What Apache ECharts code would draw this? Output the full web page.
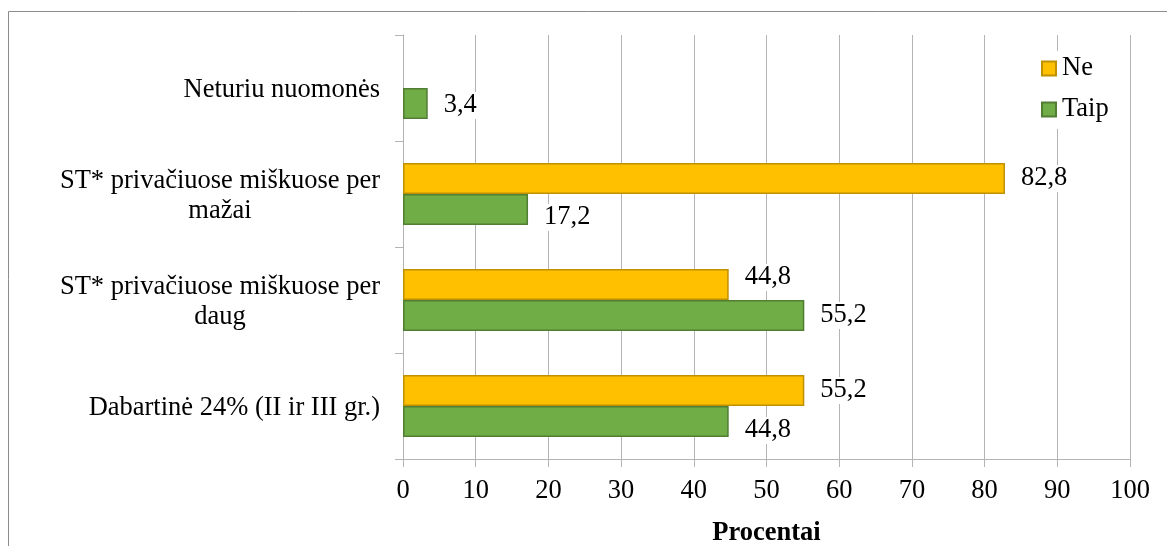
<!DOCTYPE html>
<html>
<head>
<meta charset="utf-8">
<script src="https://cdn.jsdelivr.net/npm/echarts@6/dist/echarts.min.js"></script>
<style>
  html, body { margin: 0; padding: 0; background: #fff; }
  #chart { width: 1167px; height: 546px; }
</style>
</head>
<body>
<div id="chart"></div>
<script>
// Answer categories, bottom to top
const categories = [
  'Dabartinė 24% (II ir III gr.)',
  'ST* privačiuose miškuose per daug',
  'ST* privačiuose miškuose per mažai',
  'Neturiu nuomonės'
];
// Share of respondents, %
const neValues = [55.2, 44.8, 82.8, null];
const taipValues = [44.8, 55.2, 17.2, 3.4];
const xTicks = [0, 10, 20, 30, 40, 50, 60, 70, 80, 90, 100];

const FONT = "'Liberation Serif', 'Times New Roman', serif";
const FS = 26.5;
const GRID_GREY = '#b3b3b3';

// Vertical nudges keeping neighbouring value labels apart
const neLabelShift = [0, -7, 0, 0];
const taipLabelShift = [9, 0, 8, 2];

// Long labels wrap onto two centred lines
function categoryLabel(value) {
  const m = value.match(/^(ST\* privačiuose miškuose per) (.+)$/);
  if (m) return '{w|' + m[1] + '}\n{w|' + m[2] + '}';
  return '{s|' + value + '}';
}

const valueLabel = {
  show: true,
  position: 'right',
  distance: 13,
  fontFamily: FONT,
  fontSize: FS,
  color: '#000',
  backgroundColor: '#fff',
  padding: [0, 3],
  formatter: p => String(p.value).replace('.', ',')
};

function withShift(values, shifts) {
  return values.map((v, i) => v == null ? null : {
    value: v,
    label: { offset: [0, shifts[i]] }
  });
}

const chart = echarts.init(document.getElementById('chart'));
chart.setOption({
  animation: false,
  backgroundColor: '#fff',
  textStyle: { fontFamily: FONT },
  graphic: [{
    type: 'rect',
    shape: { x: 8.5, y: 11.5, width: 1300, height: 700 },
    style: { fill: 'none', stroke: '#8c8c8c', lineWidth: 1 },
    silent: true,
    z: 0
  }],
  grid: { left: 403, right: 37, top: 35, bottom: 87, containLabel: false, outerBoundsMode: 'none' },
  legend: {
    data: ['Ne', 'Taip'],
    orient: 'vertical',
    left: 1037,
    top: 51,
    icon: 'rect',
    itemWidth: 14,
    itemHeight: 14,
    itemGap: 14,
    padding: [4, 6, 6, 4],
    backgroundColor: '#fff',
    textStyle: { fontFamily: FONT, fontSize: FS, color: '#000', padding: [0, 0, 0, 1] },
    z: 5
  },
  xAxis: {
    type: 'value',
    min: 0,
    max: 100,
    interval: 10,
    name: 'Procentai',
    nameLocation: 'middle',
    nameGap: 61,
    nameTextStyle: { fontFamily: FONT, fontSize: FS, fontWeight: 'bold', color: '#000' },
    axisLine: { show: true, lineStyle: { color: GRID_GREY } },
    axisTick: { show: true, length: 8, lineStyle: { color: GRID_GREY } },
    axisLabel: {
      fontFamily: FONT, fontSize: FS, color: '#000', margin: 19,
      formatter: v => xTicks.includes(v) ? String(v) : ''
    },
    splitLine: { show: true, lineStyle: { color: GRID_GREY } }
  },
  yAxis: {
    type: 'category',
    data: categories,
    axisLine: { show: true, lineStyle: { color: GRID_GREY } },
    axisTick: { show: true, length: 8, lineStyle: { color: GRID_GREY } },
    axisLabel: {
      margin: 23,
      align: 'right',
      padding: [4, 0, 0, 0],
      formatter: categoryLabel,
      rich: {
        w: { fontFamily: FONT, fontSize: FS, color: '#000', width: 320, align: 'center', lineHeight: 30 },
        s: { fontFamily: FONT, fontSize: FS, color: '#000', lineHeight: 30 }
      }
    },
    splitLine: { show: false }
  },
  series: [
    {
      name: 'Ne',
      type: 'bar',
      data: withShift(neValues, neLabelShift),
      barGap: '0%',
      barCategoryGap: '41.5%',
      itemStyle: { color: '#FFC000', borderColor: '#BF9000', borderWidth: 1.5 },
      label: valueLabel,
      z: 3
    },
    {
      name: 'Taip',
      type: 'bar',
      data: withShift(taipValues, taipLabelShift),
      barGap: '0%',
      barCategoryGap: '41.5%',
      itemStyle: { color: '#70AD47', borderColor: '#507E32', borderWidth: 1.5 },
      label: valueLabel,
      z: 3
    }
  ]
});
</script>
</body>
</html>
